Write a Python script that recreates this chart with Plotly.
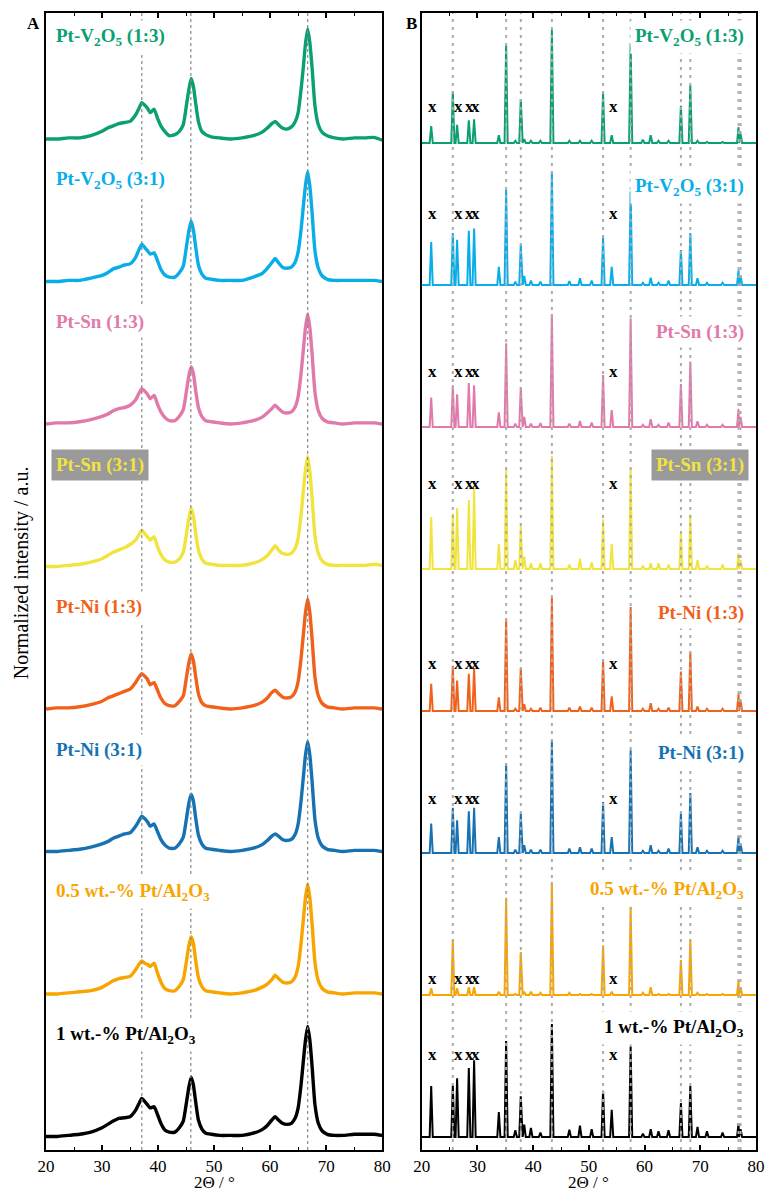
import plotly.graph_objects as go

FONT = "Liberation Serif"

# ---------------------------------------------------------------------------
# Panel A: broad patterns, each normalised to its strongest reflection
# ---------------------------------------------------------------------------
two_theta_a = [20, 22, 24, 26, 28, 30, 31, 32, 33, 34, 35, 36, 36.6, 37.1, 37.6,
               38.1, 38.6, 39.3, 39.9, 40.5, 41.2, 42, 43, 43.8, 44.5, 45.1, 45.5,
               45.9, 46.3, 46.7, 47.2, 47.8, 48.5, 49.5, 51, 53, 55, 57, 58.5, 59.5,
               60.3, 60.9, 61.5, 62.2, 63, 63.8, 64.5, 65, 65.5, 65.9, 66.3, 66.7,
               67.1, 67.5, 68, 68.6, 69.3, 70.2, 71.5, 73, 75, 77, 78.5, 80]

a_v2o5_13 = [0.00, 0.00, 0.01, 0.01, 0.03, 0.07, 0.10, 0.12, 0.14, 0.15,
             0.16, 0.22, 0.28, 0.33, 0.31, 0.28, 0.24, 0.27, 0.19, 0.12,
             0.07, 0.03, 0.04, 0.07, 0.13, 0.32, 0.45, 0.55, 0.48, 0.33,
             0.16, 0.07, 0.04, 0.02, 0.01, 0.00, 0.01, 0.03, 0.06, 0.10,
             0.14, 0.16, 0.13, 0.10, 0.09, 0.11, 0.16, 0.24, 0.44, 0.64,
             0.86, 1.00, 0.87, 0.64, 0.30, 0.13, 0.06, 0.03, 0.01, 0.00,
             0.01, 0.01, 0.015, -0.01]
a_v2o5_31 = [0.00, 0.00, 0.01, 0.01, 0.03, 0.055, 0.08, 0.115, 0.13, 0.15,
             0.16, 0.22, 0.29, 0.34, 0.31, 0.28, 0.25, 0.26, 0.19, 0.11,
             0.06, 0.04, 0.04, 0.08, 0.14, 0.33, 0.46, 0.55, 0.47, 0.32,
             0.15, 0.07, 0.03, 0.02, 0.01, 0.01, 0.01, 0.04, 0.07, 0.12,
             0.17, 0.21, 0.17, 0.13, 0.12, 0.13, 0.18, 0.27, 0.46, 0.67,
             0.87, 1.00, 0.86, 0.62, 0.28, 0.12, 0.05, 0.02, 0.01, 0.01,
             0.01, 0.01, 0.01, 0.00]
a_sn_13 = [0.00, 0.01, 0.01, 0.02, 0.04, 0.07, 0.09, 0.12, 0.14, 0.15,
           0.17, 0.22, 0.28, 0.32, 0.30, 0.27, 0.23, 0.26, 0.18, 0.11,
           0.06, 0.03, 0.03, 0.07, 0.13, 0.31, 0.44, 0.52, 0.46, 0.31,
           0.15, 0.07, 0.03, 0.02, 0.01, 0.00, 0.01, 0.03, 0.06, 0.10,
           0.14, 0.17, 0.14, 0.11, 0.10, 0.11, 0.16, 0.25, 0.45, 0.66,
           0.87, 1.00, 0.87, 0.63, 0.29, 0.12, 0.05, 0.02, 0.01, 0.00,
           0.01, 0.01, 0.01, 0.00]
a_sn_31 = [0.00, 0.00, 0.01, 0.02, 0.04, 0.07, 0.10, 0.13, 0.15, 0.17,
           0.20, 0.24, 0.29, 0.33, 0.30, 0.27, 0.24, 0.27, 0.18, 0.11,
           0.06, 0.04, 0.04, 0.07, 0.13, 0.31, 0.44, 0.53, 0.46, 0.31,
           0.15, 0.07, 0.03, 0.02, 0.01, 0.01, 0.01, 0.03, 0.06, 0.10,
           0.15, 0.19, 0.15, 0.12, 0.11, 0.12, 0.17, 0.26, 0.46, 0.67,
           0.87, 1.00, 0.86, 0.62, 0.28, 0.12, 0.05, 0.02, 0.01, 0.01,
           0.01, 0.01, 0.02, 0.01]
a_ni_13 = [0.00, 0.01, 0.01, 0.02, 0.04, 0.07, 0.10, 0.12, 0.14, 0.16,
           0.18, 0.24, 0.29, 0.32, 0.30, 0.27, 0.22, 0.24, 0.17, 0.10,
           0.05, 0.03, 0.03, 0.07, 0.12, 0.30, 0.42, 0.50, 0.44, 0.30,
           0.14, 0.06, 0.03, 0.02, 0.01, 0.00, 0.01, 0.03, 0.06, 0.10,
           0.15, 0.17, 0.14, 0.11, 0.10, 0.11, 0.16, 0.25, 0.45, 0.66,
           0.87, 1.00, 0.87, 0.63, 0.29, 0.12, 0.05, 0.02, 0.01, 0.00,
           0.01, 0.01, 0.01, 0.00]
a_ni_31 = [0.00, 0.00, 0.01, 0.02, 0.04, 0.07, 0.09, 0.12, 0.14, 0.16,
           0.17, 0.23, 0.28, 0.32, 0.30, 0.27, 0.23, 0.25, 0.18, 0.11,
           0.06, 0.03, 0.03, 0.07, 0.13, 0.31, 0.44, 0.52, 0.46, 0.31,
           0.15, 0.07, 0.03, 0.02, 0.01, 0.00, 0.01, 0.03, 0.06, 0.10,
           0.14, 0.16, 0.14, 0.11, 0.10, 0.11, 0.16, 0.25, 0.45, 0.66,
           0.87, 1.00, 0.87, 0.63, 0.29, 0.12, 0.05, 0.02, 0.01, 0.00,
           0.01, 0.01, 0.01, 0.00]
a_pt05 = [0.00, 0.00, 0.01, 0.02, 0.03, 0.06, 0.09, 0.12, 0.14, 0.15,
          0.16, 0.22, 0.27, 0.30, 0.28, 0.27, 0.25, 0.28, 0.19, 0.11,
          0.05, 0.03, 0.03, 0.07, 0.13, 0.31, 0.44, 0.52, 0.46, 0.31,
          0.15, 0.07, 0.03, 0.02, 0.01, 0.00, 0.01, 0.03, 0.06, 0.09,
          0.13, 0.17, 0.14, 0.11, 0.10, 0.11, 0.16, 0.25, 0.45, 0.66,
          0.87, 1.00, 0.87, 0.63, 0.29, 0.12, 0.05, 0.02, 0.01, 0.00,
          0.01, 0.01, 0.01, 0.00]
a_pt1 = [0.00, 0.00, 0.01, 0.02, 0.04, 0.08, 0.11, 0.14, 0.165, 0.17,
         0.18, 0.24, 0.30, 0.345, 0.32, 0.29, 0.26, 0.27, 0.20, 0.12,
         0.06, 0.04, 0.04, 0.08, 0.14, 0.32, 0.45, 0.54, 0.47, 0.32,
         0.15, 0.07, 0.03, 0.02, 0.01, 0.01, 0.01, 0.03, 0.06, 0.10,
         0.15, 0.18, 0.15, 0.12, 0.11, 0.12, 0.17, 0.26, 0.46, 0.67,
         0.87, 1.00, 0.87, 0.63, 0.29, 0.12, 0.05, 0.02, 0.01, 0.01,
         0.02, 0.02, 0.02, 0.01]

# ---------------------------------------------------------------------------
# Panel B: crystalline patterns as reflection positions / relative heights
# ---------------------------------------------------------------------------
reflex_b = [21.7, 25.58, 26.35, 28.45, 29.4, 33.84, 35.15, 36.8, 37.78, 38.4,
            39.6, 41.3, 43.36, 46.5, 48.4, 50.5, 52.55, 54.1, 57.5, 59.7,
            61.1, 62.5, 64.3, 66.52, 68.21, 69.5, 71.2, 74.0, 76.87, 77.23]

b_v2o5_13 = [0.15, 0.46, 0.16, 0.20, 0.21, 0.07, 0.86, 0.02, 0.39, 0.035,
             0.02, 0.02, 1.00, 0.02, 0.02, 0.02, 0.44, 0.07, 0.88, 0.03,
             0.07, 0.02, 0.02, 0.33, 0.51, 0.02, 0.01, 0.01, 0.14, 0.08]
b_v2o5_31 = [0.38, 0.46, 0.40, 0.48, 0.50, 0.16, 0.84, 0.03, 0.36, 0.08,
             0.04, 0.03, 1.00, 0.035, 0.06, 0.04, 0.42, 0.16, 0.83, 0.02,
             0.065, 0.02, 0.04, 0.31, 0.46, 0.06, 0.02, 0.02, 0.13, 0.08]
b_sn_13 = [0.26, 0.37, 0.29, 0.39, 0.37, 0.13, 0.74, 0.03, 0.35, 0.09,
           0.03, 0.035, 1.00, 0.03, 0.053, 0.04, 0.46, 0.15, 0.96, 0.02,
           0.07, 0.02, 0.04, 0.38, 0.58, 0.05, 0.02, 0.02, 0.16, 0.09]
b_sn_31 = [0.46, 0.49, 0.54, 0.61, 0.72, 0.22, 0.88, 0.08, 0.38, 0.11,
           0.05, 0.05, 1.00, 0.04, 0.09, 0.06, 0.44, 0.22, 0.89, 0.03,
           0.05, 0.05, 0.04, 0.33, 0.48, 0.08, 0.03, 0.04, 0.14, 0.08]
b_ni_13 = [0.24, 0.40, 0.27, 0.33, 0.38, 0.12, 0.82, 0.02, 0.38, 0.06,
           0.02, 0.03, 1.00, 0.03, 0.04, 0.03, 0.45, 0.13, 0.92, 0.02,
           0.07, 0.02, 0.03, 0.35, 0.52, 0.04, 0.02, 0.02, 0.15, 0.09]
b_ni_31 = [0.26, 0.40, 0.29, 0.37, 0.40, 0.14, 0.79, 0.03, 0.35, 0.07,
           0.03, 0.03, 1.00, 0.04, 0.05, 0.04, 0.45, 0.14, 0.91, 0.02,
           0.07, 0.02, 0.04, 0.35, 0.53, 0.05, 0.02, 0.02, 0.15, 0.08]
b_pt05 = [0.06, 0.49, 0.06, 0.07, 0.07, 0.03, 0.86, 0.01, 0.38, 0.03,
          0.03, 0.02, 1.00, 0.02, 0.01, 0.01, 0.44, 0.03, 0.78, 0.02,
          0.07, 0.01, 0.01, 0.31, 0.49, 0.02, 0.01, 0.01, 0.13, 0.07]
b_pt1 = [0.45, 0.46, 0.52, 0.61, 0.68, 0.22, 0.85, 0.06, 0.36, 0.11,
         0.08, 0.04, 1.00, 0.065, 0.10, 0.07, 0.41, 0.24, 0.80, 0.03,
         0.07, 0.05, 0.06, 0.30, 0.45, 0.09, 0.05, 0.04, 0.12, 0.07]

# reference reflections drawn as vertical guides
ref_lines_a = [37.1, 45.85, 66.7]
ref_lines_b = [25.58, 35.15, 37.78, 43.36, 52.55, 57.50, 66.52, 68.21, 76.87, 77.23]
# secondary-phase reflections flagged with "x"
x_marks_b = [21.9, 26.6, 28.6, 29.7, 54.35]

tick_vals = [20, 30, 40, 50, 60, 70, 80]

# sample order from top to bottom
names = ["Pt-V<sub>2</sub>O<sub>5</sub> (1:3)", "Pt-V<sub>2</sub>O<sub>5</sub> (3:1)",
         "Pt-Sn (1:3)", "Pt-Sn (3:1)", "Pt-Ni (1:3)", "Pt-Ni (3:1)",
         "0.5 wt.-% Pt/Al<sub>2</sub>O<sub>3</sub>", "1 wt.-% Pt/Al<sub>2</sub>O<sub>3</sub>"]
series_a = [a_v2o5_13, a_v2o5_31, a_sn_13, a_sn_31, a_ni_13, a_ni_31, a_pt05, a_pt1]
series_b = [b_v2o5_13, b_v2o5_31, b_sn_13, b_sn_31, b_ni_13, b_ni_31, b_pt05, b_pt1]

# ---- styling / layout constants ----
colors = ["#0b9f74", "#09aee8", "#e279ab", "#f1e43f", "#f1611a", "#1672b3", "#f8a500", "#000000"]
label_bg = ["white", "white", "white", "#9a9a9a", "white", "white", "white", "white"]
mark_lift = [37, 72, 56, 86, 48, 55, 17, 83]      # height of the "x" marks above baseline (px)
lab_lift_b = [106, 98, 95, 104, 98, 100, 105, 109]

PLOT_H = 1137
STEP_A, BASE_A, SCALE_A = 142.5, 13.5, 110
STEP_B, BASE_B, SCALE_B = 142.0, 13.0, 113


def stick_profile(positions, heights, half_width=0.28):
    """Polyline of narrow triangular reflections on a flat background."""
    xs, ys = [20.0], [0.0]
    for i, (p, h) in enumerate(zip(positions, heights)):
        left = p - half_width
        if left > xs[-1]:
            xs.append(left)
            ys.append(0.0)
        xs.append(p)
        ys.append(h)
        nxt = positions[i + 1] - half_width if i + 1 < len(positions) else 80.0
        if p + half_width < nxt:
            xs.append(p + half_width)
            ys.append(0.0)
    xs.append(80.0)
    ys.append(0.0)
    return xs, ys


fig = go.Figure()
annotations = []
n = len(names)

for i in range(n):
    k = n - 1 - i  # stacking index from the bottom
    off_a = BASE_A + STEP_A * k
    off_b = BASE_B + STEP_B * k

    fig.add_trace(go.Scatter(
        x=two_theta_a, y=[off_a + SCALE_A * v for v in series_a[i]],
        mode="lines", line=dict(color=colors[i], width=3.4, shape="spline", smoothing=0.5),
        xaxis="x", yaxis="y", hoverinfo="skip", showlegend=False))

    bx, by = stick_profile(reflex_b, series_b[i])
    fig.add_trace(go.Scatter(
        x=bx, y=[off_b + SCALE_B * v for v in by],
        mode="lines", line=dict(color=colors[i], width=2),
        xaxis="x2", yaxis="y2", hoverinfo="skip", showlegend=False))

    txt = "<b>" + names[i] + "</b>"
    annotations.append(dict(
        x=20.88, y=off_a + 102, xref="x", yref="y", text=txt, showarrow=False,
        xanchor="left", yanchor="middle", bgcolor=label_bg[i], borderpad=4,
        font=dict(family=FONT, size=19, color=colors[i])))
    annotations.append(dict(
        x=78.7, y=off_b + lab_lift_b[i], xref="x2", yref="y2", text=txt, showarrow=False,
        xanchor="right", yanchor="middle", bgcolor=label_bg[i], borderpad=4,
        font=dict(family=FONT, size=19, color=colors[i])))

    for xm in x_marks_b:
        annotations.append(dict(
            x=xm, y=off_b + mark_lift[i], xref="x2", yref="y2", text="<b>x</b>",
            showarrow=False, xanchor="center", yanchor="middle",
            font=dict(family=FONT, size=17, color="black")))

shapes = []
for xv in ref_lines_a:
    shapes.append(dict(type="line", xref="x", yref="y domain", x0=xv, x1=xv, y0=0, y1=1,
                       line=dict(color="#8a8a8a", width=1.2, dash="dot"), layer="above"))
for xv in ref_lines_b:
    shapes.append(dict(type="line", xref="x2", yref="y2 domain", x0=xv, x1=xv, y0=0, y1=1,
                       line=dict(color="#ababab", width=2, dash="3px,5px"), layer="above"))

# panel letters, axis titles
annotations += [
    dict(x=-0.018, y=0.991, xref="paper", yref="paper", text="<b>A</b>", showarrow=False,
         xanchor="center", yanchor="middle", font=dict(family=FONT, size=17, color="black")),
    dict(x=0.5153, y=0.991, xref="paper", yref="paper", text="<b>B</b>", showarrow=False,
         xanchor="center", yanchor="middle", font=dict(family=FONT, size=17, color="black")),
    dict(x=-0.034, y=0.508, xref="paper", yref="paper", text="Normalized intensity / a.u.",
         showarrow=False, textangle=-90, xanchor="center", yanchor="middle",
         font=dict(family=FONT, size=20, color="black")),
    dict(x=50, y=-0.029, xref="x", yref="paper", text="2Θ / °", showarrow=False,
         xanchor="center", yanchor="middle", font=dict(family=FONT, size=17, color="black")),
    dict(x=50, y=-0.029, xref="x2", yref="paper", text="2Θ / °", showarrow=False,
         xanchor="center", yanchor="middle", font=dict(family=FONT, size=17, color="black")),
]

xaxis_style = dict(
    range=[20, 80], tickvals=tick_vals, ticks="inside", ticklen=5, tickwidth=1.5,
    tickcolor="black", showline=True, linecolor="black", linewidth=2, mirror="ticks",
    showgrid=False, zeroline=False, fixedrange=True,
    minor=dict(dtick=5, tick0=20, ticks="inside", ticklen=3, tickwidth=1.2, tickcolor="black"),
    tickfont=dict(family=FONT, size=17, color="black"),
)
yaxis_style = dict(
    range=[0, PLOT_H], showticklabels=False, ticks="", showline=True, linecolor="black",
    linewidth=2, mirror=True, showgrid=False, zeroline=False, fixedrange=True,
)

fig.update_layout(
    width=775, height=1193,
    margin=dict(l=46, r=11, t=13, b=43),
    paper_bgcolor="white", plot_bgcolor="white",
    xaxis=dict(domain=[0, 0.4735], anchor="y", **xaxis_style),
    xaxis2=dict(domain=[0.5292, 1], anchor="y2", **xaxis_style),
    yaxis=dict(domain=[0, 1], anchor="x", **yaxis_style),
    yaxis2=dict(domain=[0, 1], anchor="x2", **yaxis_style),
    shapes=shapes,
    annotations=annotations,
    font=dict(family=FONT, color="black"),
)

fig.write_html("out.html")
